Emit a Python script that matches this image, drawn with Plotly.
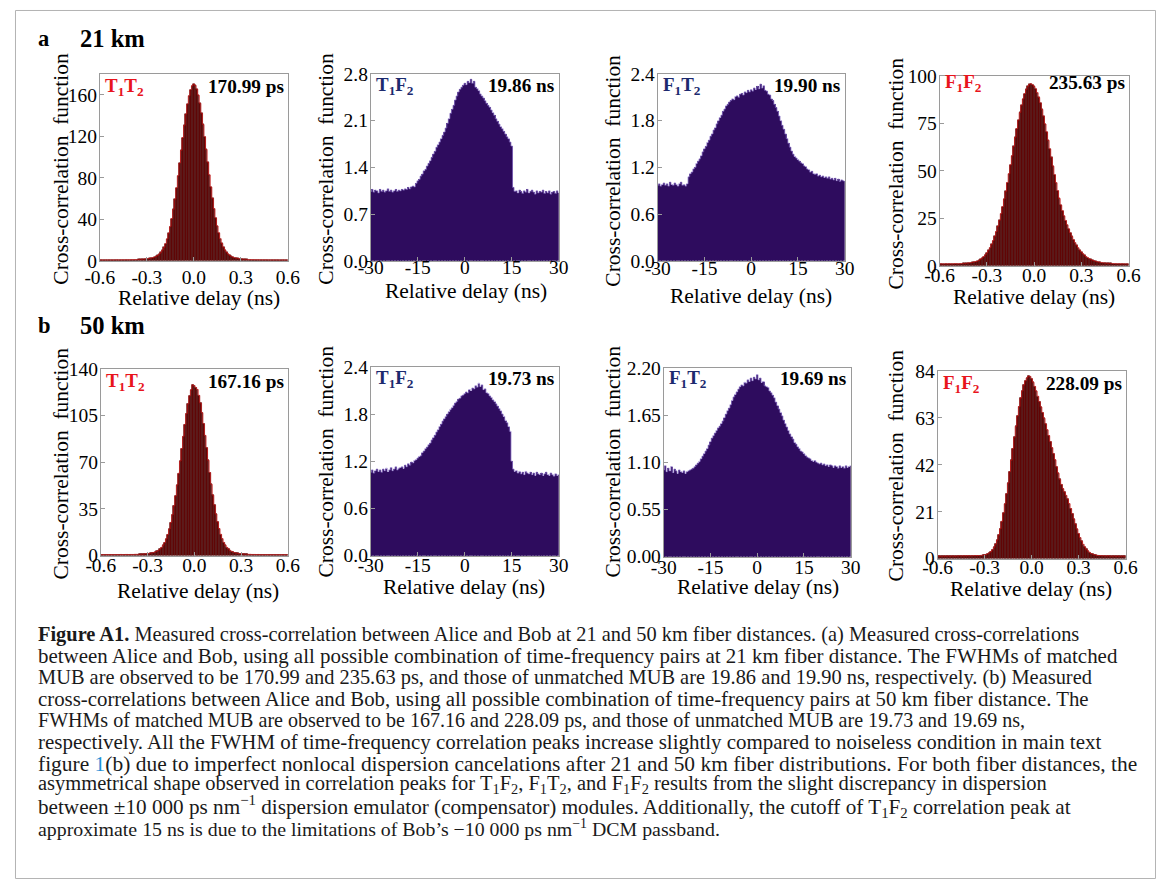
import numpy as np
import plotly.graph_objects as go

W, H = 1168, 890

# ---------------------------------------------------------------------------
# Data: coincidence histograms (cross-correlation function vs relative delay)
# ---------------------------------------------------------------------------
# narrow windows: 10 ps bins from -0.6 to 0.6 ns; wide windows: 0.5 ns bins from -30 to 30 ns
narrow_delay = np.round(np.linspace(-0.6, 0.6, 121), 3)
wide_delay = np.round(np.linspace(-30.0, 30.0, 121), 2)

# 21 km, T1T2
t1t2_21km = [
    0.8, 0.9, 0.8, 0.8, 0.9, 0.8, 0.9, 0.9, 0.8, 0.9, 0.9, 1.0, 0.9, 0.9, 1.0, 1.0, 1.0, 1.1, 1.0, 1.1,
    1.1, 1.2, 1.2, 1.3, 1.3,
    1.4, 1.5, 1.6, 1.7, 1.9, 2.0, 2.2,
    2.5, 2.8, 3.2, 3.7, 4.4, 5.3, 6.6, 8.2, 10.3, 13.0, 16.6, 21.1, 26.6, 33.1, 40.8, 49.6, 59.4, 70.3,
    82.0, 94.2, 106.5, 118.8, 130.6, 141.4, 151.0, 159.0, 164.9, 168.7,
    170.3,
    169.0, 165.3, 159.5, 151.8, 142.2, 131.4, 119.6, 107.3, 95.0, 82.8, 71.1, 60.2, 50.3, 41.4, 33.6,
    26.9, 21.3, 16.8, 13.2, 10.4, 8.2, 6.6, 5.3, 4.3, 3.6, 3.1, 2.7, 2.4, 2.1, 1.9, 1.8, 1.6, 1.5, 1.4, 1.3,
    1.3, 1.2, 1.2, 1.1, 1.1, 1.1, 1.0, 1.0, 1.0, 0.9, 1.0, 0.9, 0.9, 0.9, 0.8, 0.9, 0.8, 0.9, 0.8, 0.8,
    0.8, 0.9, 0.8, 0.8, 0.8,
]

# 21 km, T1F2
t1f2_21km = [
    1.04, 1.07, 1.03, 1.06, 1.05, 1.02, 1.07, 1.04, 1.06, 1.03, 1.05, 1.08, 1.04, 1.06, 1.03, 1.05, 1.07,
    1.04, 1.06, 1.05, 1.07,
    1.06, 1.08, 1.07, 1.10, 1.08, 1.11, 1.12, 1.11,
    1.16, 1.20, 1.22, 1.27, 1.30, 1.35, 1.37, 1.42, 1.46, 1.50, 1.55, 1.60, 1.64, 1.70, 1.74, 1.78, 1.83,
    1.88, 1.93, 1.99, 2.06, 2.13, 2.21, 2.27, 2.33, 2.41, 2.47, 2.53, 2.57, 2.60, 2.63, 2.66, 2.64, 2.69,
    2.67, 2.72, 2.66, 2.69, 2.60, 2.58, 2.55, 2.50, 2.47, 2.44, 2.40, 2.36, 2.33, 2.30, 2.26, 2.22, 2.18,
    2.13, 2.09, 2.05, 2.01, 1.98, 1.94, 1.90, 1.86, 1.83, 1.78, 1.72, 1.10, 1.04,
    1.05, 1.02, 1.06, 1.04, 1.01, 1.05, 1.03, 1.07, 1.02, 1.04, 1.06, 1.03, 1.00, 1.05, 1.02, 1.04, 1.03,
    1.06, 1.01, 1.04, 1.02, 1.05, 1.00, 1.03, 1.04, 1.01, 1.05, 1.02,
]

# 21 km, F1T2
f1t2_21km = [
    0.97, 0.99, 0.96, 0.98, 1.00, 0.97, 0.99, 0.96, 1.01, 0.98, 0.97, 1.00, 0.98, 0.96, 0.99, 1.01, 0.97,
    0.98, 0.96, 0.99,
    1.08, 1.12, 1.14, 1.18, 1.20, 1.25, 1.28, 1.31, 1.35, 1.40, 1.44, 1.47, 1.52, 1.55, 1.60, 1.63, 1.68,
    1.71, 1.76, 1.80, 1.84, 1.87, 1.92, 1.95, 1.99, 2.01, 2.04, 2.06, 2.08, 2.07, 2.11, 2.12, 2.10, 2.14,
    2.15, 2.13, 2.17, 2.16, 2.19, 2.17, 2.20, 2.18, 2.22, 2.20, 2.24, 2.21, 2.27, 2.22, 2.25, 2.19, 2.18,
    2.14, 2.13, 2.08, 2.06, 2.01, 1.97, 1.92, 1.86, 1.80, 1.74, 1.69, 1.63, 1.57, 1.51, 1.46, 1.41, 1.37,
    1.34, 1.32, 1.30, 1.28, 1.26, 1.25, 1.22, 1.21, 1.18, 1.17, 1.14, 1.15, 1.12, 1.11, 1.12, 1.09, 1.10,
    1.08, 1.09, 1.07, 1.08, 1.06, 1.08, 1.05, 1.06, 1.04, 1.06, 1.03, 1.05, 1.02, 1.04, 1.03, 1.02,
]

# 21 km, F1F2
f1f2_21km = [
    1.0, 1.1, 1.0, 1.0, 1.1, 1.0, 1.1, 1.1, 1.0, 1.1, 1.2, 1.1, 1.1, 1.2, 1.2, 1.3, 1.3, 1.4, 1.5, 1.6,
    1.7, 1.9, 2.1,
    2.3, 2.5, 2.9, 3.5, 4.1, 4.9, 5.8, 6.9, 8.2, 9.6, 11.4, 13.3, 15.6, 18.1, 20.9, 24.0, 27.5, 31.2,
    35.2, 39.3, 43.9, 48.5, 53.2, 58.0, 62.9, 67.7, 72.3, 76.7, 80.8, 84.6, 87.9, 90.7, 92.9, 94.6, 95.6,
    95.9,
    95.4, 94.5, 93.2, 91.2, 88.7, 85.8, 82.4, 78.8, 74.7, 70.5, 66.1, 61.6, 57.1, 52.5, 48.0, 43.8, 39.6,
    35.5, 32.0, 29.0, 26.3, 23.9, 21.6, 19.4, 17.4, 15.5, 13.8, 12.2, 10.8, 9.5, 8.3, 7.3, 6.4, 5.6, 4.9,
    4.3, 3.8, 3.4, 3.0, 2.7, 2.4, 2.2, 2.0, 1.9, 1.7, 1.6, 1.5, 1.4, 1.4, 1.3, 1.3, 1.2, 1.2, 1.1, 1.1,
    1.1, 1.0, 1.1, 1.0, 1.0, 1.0, 1.0,
]

# 50 km, T1T2
t1t2_50km = [
    0.7, 0.8, 0.7, 0.8, 0.8, 0.7, 0.8, 0.8, 0.7, 0.8, 0.8, 0.8, 0.8, 0.9, 0.8, 0.8, 0.9, 0.9, 0.8, 0.9,
    0.9, 0.9, 1.0, 1.0, 1.0,
    1.1, 1.1, 1.2, 1.3, 1.4, 1.5, 1.7,
    1.9, 2.1, 2.4, 2.8, 3.3, 4.0, 5.0, 6.2, 7.8, 9.8, 12.5, 15.9, 20.0, 24.9, 30.7, 37.3, 44.7, 52.9,
    61.7, 70.9, 80.2, 89.4, 98.3, 106.5, 113.7, 119.7, 124.2, 128.0,
    127.4,
    126.0, 124.5, 120.1, 114.3, 107.1, 98.9, 90.1, 80.8, 71.5, 62.3, 53.5, 45.3, 37.9, 31.2, 25.3,
    20.3, 16.0, 12.7, 9.9, 7.8, 6.2, 5.0, 4.0, 3.2, 2.7, 2.3, 2.0, 1.8, 1.6, 1.4, 1.4, 1.2, 1.1, 1.1, 1.0,
    1.0, 0.9, 0.9, 0.9, 0.8, 0.9, 0.8, 0.8, 0.8, 0.7, 0.8, 0.8, 0.7, 0.8, 0.7, 0.8, 0.7, 0.7, 0.8, 0.7,
    0.7, 0.8, 0.7, 0.7, 0.7,
]

# 50 km, T1F2
t1f2_50km = [
    1.06, 1.09, 1.05, 1.08, 1.10, 1.07, 1.09, 1.06, 1.10, 1.08, 1.11, 1.07, 1.09, 1.12, 1.08, 1.10, 1.13,
    1.09, 1.11, 1.12,
    1.13, 1.11, 1.15, 1.13, 1.17, 1.15, 1.19, 1.18, 1.21, 1.22, 1.24, 1.26, 1.27, 1.31, 1.33, 1.36, 1.38,
    1.41, 1.43, 1.47, 1.50, 1.53, 1.57, 1.60, 1.64, 1.67, 1.71, 1.74, 1.77, 1.80, 1.83, 1.86, 1.88, 1.91,
    1.94, 1.96, 1.99, 2.00, 2.03, 2.04, 2.06, 2.08, 2.07, 2.11, 2.10, 2.13, 2.12, 2.16, 2.14, 2.19, 2.15,
    2.17, 2.11, 2.12, 2.07, 2.06, 2.03, 2.01, 1.98, 1.96, 1.93, 1.90, 1.87, 1.84, 1.80, 1.77, 1.72, 1.69,
    1.64, 1.58, 1.20, 1.10, 1.07,
    1.08, 1.05, 1.07, 1.04, 1.06, 1.03, 1.07, 1.05, 1.04, 1.06, 1.03, 1.05, 1.02, 1.06, 1.04, 1.03, 1.05,
    1.02, 1.04, 1.06, 1.03, 1.02, 1.05, 1.03, 1.01, 1.04, 1.02, 1.03,
]

# 50 km, F1T2
f1t2_50km = [
    1.01, 1.06, 0.99, 1.03, 1.00, 1.05, 0.98, 1.02, 1.00, 0.97, 1.01, 0.99, 0.98, 1.00, 0.97, 0.99,
    1.00, 1.01, 1.02, 1.03, 1.05, 1.07, 1.09, 1.11, 1.14, 1.17, 1.20, 1.23, 1.26, 1.30, 1.34, 1.38, 1.41,
    1.44, 1.47, 1.50, 1.52, 1.55, 1.58, 1.62, 1.66, 1.70, 1.73, 1.77, 1.82, 1.86, 1.89, 1.92, 1.95, 1.98,
    2.00, 1.99, 2.03, 2.02, 2.06, 2.04, 2.08, 2.05, 2.09, 2.07, 2.12, 2.06, 2.08, 2.03, 2.04, 1.99, 1.98,
    1.97, 1.93, 1.91, 1.88, 1.85, 1.80, 1.76, 1.72, 1.68, 1.64, 1.59, 1.55, 1.51, 1.47, 1.43, 1.40, 1.37,
    1.33, 1.31, 1.28, 1.26, 1.23, 1.22, 1.20, 1.18, 1.16, 1.15, 1.14, 1.12, 1.11, 1.12, 1.10, 1.09, 1.08,
    1.09, 1.07, 1.08, 1.06, 1.07, 1.05, 1.07, 1.06, 1.04, 1.06, 1.05, 1.03, 1.06, 1.04, 1.05, 1.03, 1.06,
    1.04, 1.05, 1.06,
]

# 50 km, F1F2
f1f2_50km = [
    1.1, 1.2, 1.1, 1.1, 1.2, 1.1, 1.2, 1.2, 1.1, 1.2, 1.2, 1.1, 1.2, 1.2, 1.3, 1.2, 1.2, 1.3, 1.2, 1.3,
    1.3, 1.2, 1.3, 1.3, 1.4, 1.3, 1.4, 1.4, 1.5, 1.6,
    1.7, 1.9, 2.2, 2.6, 3.2, 4.0, 5.1, 6.5, 8.3, 10.6, 13.4, 16.7, 20.4, 24.5, 29.0, 33.8, 38.9, 44.0,
    49.2, 54.3, 59.2, 63.8, 68.0, 71.8, 75.0, 77.6, 79.5, 80.8, 81.6, 81.5, 80.4, 78.9, 77.0, 74.9, 72.6,
    70.2, 67.8, 65.3, 62.8, 60.2, 57.6, 55.0, 52.3, 49.6, 46.9, 44.2, 41.0, 38.2, 35.5, 33.2, 31.3, 29.8,
    28.3, 26.6, 24.6, 22.4, 20.1, 17.7, 15.4, 13.2, 11.2, 9.4, 7.8, 6.4, 5.2, 4.2, 3.4, 2.8, 2.3, 2.0,
    1.8, 1.6, 1.5, 1.4, 1.4, 1.3,
    1.3, 1.2, 1.2, 1.3, 1.2, 1.1, 1.2, 1.2, 1.1, 1.2, 1.1, 1.1, 1.2, 1.1, 1.1,
]

# FWHM values printed in each panel
fwhm_labels = ["170.99 ps", "19.86 ns", "19.90 ns", "235.63 ps",
               "167.16 ps", "19.73 ns", "19.69 ns", "228.09 ps"]
basis_labels = ["T<sub>1</sub>T<sub>2</sub>", "T<sub>1</sub>F<sub>2</sub>",
                "F<sub>1</sub>T<sub>2</sub>", "F<sub>1</sub>F<sub>2</sub>"] * 2

narrow_xticks = [-0.6, -0.3, 0.0, 0.3, 0.6]
narrow_xtext = ["-0.6", "-0.3", "0.0", "0.3", "0.6"]
wide_xticks = [-30, -15, 0, 15, 30]
wide_xtext = ["-30", "-15", "0", "15", "30"]

y_ticks = [
    [0, 40, 80, 120, 160],
    [0.0, 0.7, 1.4, 2.1, 2.8],
    [0.0, 0.6, 1.2, 1.8, 2.4],
    [0, 25, 50, 75, 100],
    [0, 35, 70, 105, 140],
    [0.0, 0.6, 1.2, 1.8, 2.4],
    [0.0, 0.55, 1.10, 1.65, 2.20],
    [0, 21, 42, 63, 84],
]
y_fmt = ["{:.0f}", "{:.1f}", "{:.1f}", "{:.0f}", "{:.0f}", "{:.1f}", "{:.2f}", "{:.0f}"]
y_max = [180, 2.8, 2.4, 100, 140, 2.4, 2.2, 84]

series = [t1t2_21km, t1f2_21km, f1t2_21km, f1f2_21km,
          t1t2_50km, t1f2_50km, f1t2_50km, f1f2_50km]
is_narrow = [True, False, False, True, True, False, False, True]

# ---------------------------------------------------------------------------
# Page geometry (page pixels): panel frames (left, right, top, bottom) and text anchors
# ---------------------------------------------------------------------------
boxes = [
    (99, 287, 75, 262), (370, 558, 75, 262), (657, 844, 75, 262), (939, 1128, 77, 267),
    (100, 287, 370, 557), (370, 558, 368, 557), (663, 850, 369, 558), (937, 1125, 372, 560),
]
ytitle_pos = [(60, 170), (325, 170), (612, 172), (895, 175),
              (60, 465), (325, 463), (612, 463), (895, 467)]
xtitle_pos = [(198, 299), (465, 292), (750, 297), (1033, 298),
              (197, 592), (463, 588), (757, 588), (1030, 590)]
xtick_standoff = [-1, -11, -10, -8, -8, -8, -7, -9]
label_y = [88, 87, 87, 84, 383, 380, 380, 385]

# the rendered page is shown slightly reduced and offset; page pixels are mapped through it
SCALE, OFF_X, OFF_Y = 0.977, 14.2, 11.0


def fx(px):
    return ((px - OFF_X) / SCALE) / W


def fy(py):
    return 1 - ((py - OFF_Y) / SCALE) / H


def fs(size):
    return size / SCALE


RED_FILL, RED_BAR_EDGE, RED_OUTLINE = "#620707", "#3c0000", "#c01212"
PURPLE_FILL, PURPLE_EDGE = "#2e0c5e", "#8a72c4"
SERIF = "Liberation Serif"

fig = go.Figure()
layout = dict(
    width=W, height=H, margin=dict(l=0, r=0, t=0, b=0),
    paper_bgcolor="white", plot_bgcolor="white",
    showlegend=False, bargap=0, barmode="overlay",
    font=dict(family=SERIF, color="black"),
)
annotations = []

for i in range(8):
    n = i + 1
    xa, ya = f"x{n}", f"y{n}"
    left, right, top, bottom = boxes[i]
    if is_narrow[i]:
        delay = narrow_delay
        fig.add_trace(go.Bar(
            x=delay, y=series[i], width=0.01, xaxis=xa, yaxis=ya,
            marker=dict(color=RED_FILL, line=dict(color=RED_BAR_EDGE, width=0.4)),
            hoverinfo="skip",
        ))
        fig.add_trace(go.Scatter(
            x=delay, y=series[i], xaxis=xa, yaxis=ya, mode="lines",
            line=dict(color=RED_OUTLINE, width=0.8, shape="hvh"),
            hoverinfo="skip",
        ))
        xrange = [-0.6, 0.6]
        xticks, xtext = narrow_xticks, narrow_xtext
        lab_color = "#e8141c"
    else:
        delay = wide_delay
        fig.add_trace(go.Bar(
            x=delay, y=series[i], width=0.5, xaxis=xa, yaxis=ya,
            marker=dict(color=PURPLE_FILL, line=dict(width=0)),
            hoverinfo="skip",
        ))
        fig.add_trace(go.Scatter(
            x=delay, y=series[i], xaxis=xa, yaxis=ya, mode="lines",
            line=dict(color=PURPLE_EDGE, width=0.8, shape="hvh"),
            hoverinfo="skip",
        ))
        xrange = [-30, 30]
        xticks, xtext = wide_xticks, wide_xtext
        lab_color = "#1c2a6e"

    axis_common = dict(
        showline=True, mirror=True, linecolor="#9a9a9a", linewidth=1,
        ticks="inside", ticklen=4, tickcolor="#9a9a9a", tickwidth=1,
        showgrid=False, zeroline=False, fixedrange=True,
        tickfont=dict(family=SERIF, size=fs(19), color="black"),
    )
    layout[f"xaxis{n}"] = dict(
        axis_common, domain=[fx(left), fx(right)], anchor=ya, range=xrange,
        tickmode="array", tickvals=xticks, ticktext=xtext,
        ticklabelstandoff=xtick_standoff[i],
    )
    layout[f"yaxis{n}"] = dict(
        axis_common, domain=[fy(bottom), fy(top)], anchor=xa, range=[0, y_max[i]],
        tickmode="array", tickvals=y_ticks[i],
        ticktext=[y_fmt[i].format(v) for v in y_ticks[i]],
        ticklabelstandoff=-2,
    )

    # axis titles
    annotations.append(dict(
        text="Cross-correlation  function", textangle=-90,
        x=fx(ytitle_pos[i][0]), y=fy(ytitle_pos[i][1]), xref="paper", yref="paper",
        xanchor="center", yanchor="middle", showarrow=False,
        font=dict(family=SERIF, size=fs(21), color="black"),
    ))
    annotations.append(dict(
        text="Relative delay (ns)",
        x=fx(xtitle_pos[i][0]), y=fy(xtitle_pos[i][1]), xref="paper", yref="paper",
        xanchor="center", yanchor="middle", showarrow=False,
        font=dict(family=SERIF, size=fs(21), color="black"),
    ))
    # basis label and FWHM inside the frame
    annotations.append(dict(
        text=f"<b>{basis_labels[i]}</b>",
        x=fx(left + 3), y=fy(label_y[i]), xref="paper", yref="paper",
        xanchor="left", yanchor="middle", showarrow=False,
        font=dict(family=SERIF, size=fs(18.5), color=lab_color),
    ))
    annotations.append(dict(
        text=f"<b>{fwhm_labels[i]}</b>",
        x=fx(right - 2), y=fy(label_y[i]), xref="paper", yref="paper",
        xanchor="right", yanchor="middle", showarrow=False,
        font=dict(family=SERIF, size=fs(18.8), color="black"),
    ))

# row headings
for tag, dist, ypx in [("a", "21 km", 40), ("b", "50 km", 327)]:
    annotations.append(dict(
        text=f"<b>{tag}</b>", x=fx(35), y=fy(ypx), xref="paper", yref="paper",
        xanchor="left", yanchor="middle", showarrow=False,
        font=dict(family=SERIF, size=fs(22), color="black"),
    ))
    annotations.append(dict(
        text=f"<b>{dist}</b>", x=fx(77), y=fy(ypx), xref="paper", yref="paper",
        xanchor="left", yanchor="middle", showarrow=False,
        font=dict(family=SERIF, size=fs(24), color="black"),
    ))

# caption, one annotation per typeset line (size tuned per line to keep the ragged right edge)
caption_lines = [
    "<b>Figure A1.</b> Measured cross-correlation between Alice and Bob at 21 and 50 km fiber distances. (a) Measured cross-correlations",
    "between Alice and Bob, using all possible combination of time-frequency pairs at 21 km fiber distance. The FWHMs of matched",
    "MUB are observed to be 170.99 and 235.63 ps, and those of unmatched MUB are 19.86 and 19.90 ns, respectively. (b) Measured",
    "cross-correlations between Alice and Bob, using all possible combination of time-frequency pairs at 50 km fiber distance. The",
    "FWHMs of matched MUB are observed to be 167.16 and 228.09 ps, and those of unmatched MUB are 19.73 and 19.69 ns,",
    "respectively. All the FWHM of time-frequency correlation peaks increase slightly compared to noiseless condition in main text",
    "figure <span style='color:#1f8fd6'>1</span>(b) due to imperfect nonlocal dispersion cancelations after 21 and 50 km fiber distributions. For both fiber distances, the",
    "asymmetrical shape observed in correlation peaks for T<sub>1</sub>F<sub>2</sub>, F<sub>1</sub>T<sub>2</sub>, and F<sub>1</sub>F<sub>2</sub> results from the slight discrepancy in dispersion",
    "between ±10 000 ps nm<sup>−1</sup> dispersion emulator (compensator) modules. Additionally, the cutoff of T<sub>1</sub>F<sub>2</sub> correlation peak at",
    "approximate 15 ns is due to the limitations of Bob’s −10 000 ps nm<sup>−1</sup> DCM passband.",
]
caption_y = [636, 657, 679, 700, 722, 743, 765, 786, 808, 829]
caption_size = [19.93, 20.46, 19.95, 20.36, 19.6, 20.46, 20.97, 20.04, 20.7, 19.4]
for text, ypx, size in zip(caption_lines, caption_y, caption_size):
    annotations.append(dict(
        text=text, x=fx(35), y=fy(ypx), xref="paper", yref="paper",
        xanchor="left", yanchor="middle", showarrow=False,
        font=dict(family=SERIF, size=fs(size), color="#1a1a1a"),
    ))

layout["annotations"] = annotations
# thin frame around the whole figure, kept on the page
layout["shapes"] = [dict(
    type="rect", xref="paper", yref="paper",
    x0=max(fx(8), 0.5 / W), x1=min(fx(1163), 1 - 0.5 / W),
    y0=max(fy(886), 0.5 / H), y1=min(fy(4), 1 - 0.5 / H),
    line=dict(color="#b4b4b4", width=1), fillcolor="rgba(0,0,0,0)", layer="below",
)]
fig.update_layout(**layout)

fig.write_html("out.html")
